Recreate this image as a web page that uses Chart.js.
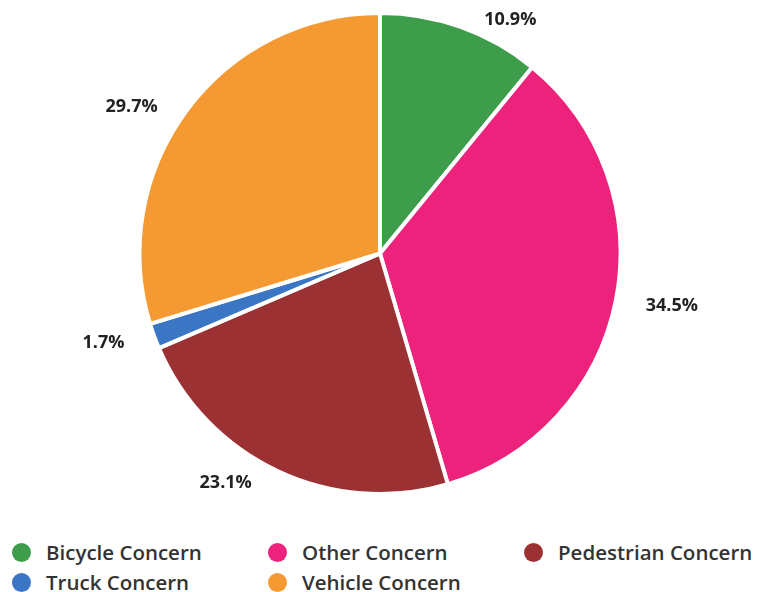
<!DOCTYPE html>
<html>
<head>
<meta charset="utf-8">
<script src="https://cdn.jsdelivr.net/npm/chart.js@4"></script>
<style>
  body { margin: 0; background: #fff; }
  #wrap { position: relative; width: 757px; height: 515px; }
  #legend {
    display: grid;
    grid-template-columns: 256px 256px 245px;
    row-gap: 6px;
    padding-left: 12px;
    margin-top: 25px;
    font-family: "Open Sans", sans-serif;
    font-weight: 600;
    font-size: 20.5px;
    color: #333;
  }
  #legend div { display: flex; align-items: center; height: 24px; white-space: nowrap; }
  #legend span.dot {
    width: 19px; height: 19px; border-radius: 50%;
    margin-right: 15px; display: inline-block; flex: none;
  }
</style>
</head>
<body>
<div id="wrap"><canvas id="myChart" width="757" height="515"></canvas></div>
<div id="legend"></div>
<script>
'use strict';
// slices clockwise from 12 o'clock
let categories = ['Bicycle Concern', 'Other Concern', 'Pedestrian Concern', 'Truck Concern', 'Vehicle Concern'];
let shares = [10.9, 34.5, 23.1, 1.7, 29.7];
let colors = ['#3e9d4b', '#ec227c', '#9c3134', '#3b76c4', '#f59a32'];

// draws the % labels outside the pie
let outsideLabels = {
  id: 'outsideLabels',
  afterDatasetsDraw(chart, args, opts) {
    let ctx = chart.ctx;
    let meta = chart.getDatasetMeta(0);
    ctx.save();
    ctx.font = 'bold 18px "Open Sans", sans-serif';
    ctx.fillStyle = '#222';
    ctx.textAlign = 'center';
    ctx.textBaseline = 'middle';
    meta.data.forEach(function (arc, i) {
      let p = arc.getProps(['x', 'y', 'startAngle', 'endAngle', 'outerRadius'], true);
      let mid = (p.startAngle + p.endAngle) / 2 + opts.shift[i] * Math.PI / 180;
      let r = p.outerRadius + opts.gap[i];
      let x = p.x + Math.cos(mid) * r;
      let y = p.y + Math.sin(mid) * r;
      ctx.fillText(chart.data.datasets[0].data[i].toFixed(1) + '%', x, y);
    });
    ctx.restore();
  }
};

let ctx = document.getElementById('myChart').getContext('2d');
let myChart = new Chart(ctx, {
  type: 'pie',
  data: {
    labels: categories,
    datasets: [{
      data: shares,
      backgroundColor: colors,
      borderColor: '#ffffff',
      borderWidth: 4
    }]
  },
  options: {
    responsive: false,
    animation: false,
    layout: { padding: { top: 11, bottom: 19, left: 3, right: 0 } },
    plugins: {
      legend: { display: false },
      tooltip: { enabled: false },
      outsideLabels: {
        shift: [9.5, -1.3, 8.7, 2.2, -5.9],
        gap: [27, 56, 36, 50, 48]
      }
    }
  },
  plugins: [outsideLabels]
});

// legend laid out in three columns like the original
let legendEl = document.getElementById('legend');
for (let i = 0; i < categories.length; i++) {
  let item = document.createElement('div');
  item.innerHTML = '<span class="dot" style="background:' + colors[i] + '"></span>' + categories[i];
  legendEl.appendChild(item);
}
</script>
</body>
</html>
